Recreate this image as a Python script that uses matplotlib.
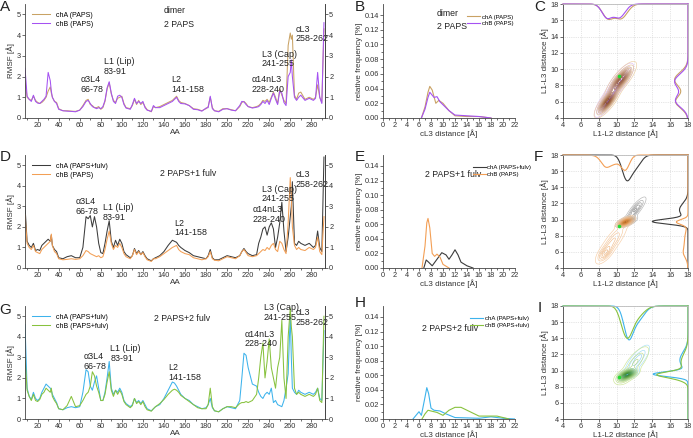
import matplotlib.pyplot as plt
import numpy as np
from matplotlib.colors import LinearSegmentedColormap

plt.rcParams['font.family'] = ['Liberation Sans', 'DejaVu Sans']

# residues of the RMSF profiles
res = [8, 10, 12, 14, 16, 18, 20, 22, 24, 26,
       28, 30, 32, 33, 34, 36, 38, 40, 44, 48,
       52, 56, 60, 63, 66, 68, 70, 72, 74, 76,
       78, 80, 82, 84, 86, 88, 90, 92, 94, 96,
       98, 100, 102, 104, 108, 110, 112, 114, 116, 118,
       120, 122, 124, 128, 130, 132, 136, 140, 144, 148,
       150, 152, 154, 156, 160, 164, 168, 172, 176, 180,
       182, 184, 186, 188, 192, 196, 200, 204, 208, 212,
       214, 216, 218, 220, 224, 228, 230, 232, 234, 236,
       238, 240, 242, 244, 246, 248, 250, 252, 254, 256,
       258, 260, 261, 262, 264, 266, 268, 270, 274, 278,
       282, 284, 286, 288, 290, 292]

# A: dimer, 2 PAPS
rmsf_A_chA = [1.8, 1.0, 0.9, 0.85, 1.05, 0.85, 0.75, 0.7, 0.75, 0.85,
              1.0, 1.3, 1.5, 1.2, 1.0, 0.8, 0.75, 0.45, 0.35, 0.35,
              0.33, 0.32, 0.38, 0.6, 0.85, 0.9, 0.65, 0.6, 0.5, 0.5,
              0.55, 0.42, 0.5, 0.8, 1.4, 1.7, 1.15, 0.85, 0.75, 0.95,
              1.0, 1.05, 0.7, 0.5, 0.45, 0.6, 0.9, 0.65, 0.85, 0.65,
              0.75, 0.55, 0.4, 0.3, 0.55, 0.5, 0.55, 0.65, 0.75, 0.85,
              0.95, 1.05, 0.85, 0.75, 0.7, 0.6, 0.45, 0.42, 0.35, 0.45,
              0.55, 1.0, 0.5, 0.35, 0.32, 0.45, 0.45, 0.4, 0.35, 0.55,
              0.75, 0.8, 0.7, 0.55, 0.5, 0.55, 0.6, 0.7, 0.85, 0.8,
              0.9, 0.75, 1.0, 1.25, 1.0, 0.7, 1.4, 1.1, 0.85, 0.7,
              3.5, 4.1, 3.8, 4.0, 1.1, 0.9, 1.2, 1.25, 0.9, 1.0,
              0.9, 1.0, 1.6, 1.0, 0.75, 4.3]
rmsf_A_chB = [2.4, 1.05, 0.9, 0.8, 1.1, 0.8, 0.72, 0.7, 0.8, 0.9,
              1.05, 2.2, 1.8, 1.3, 1.0, 0.8, 0.7, 0.42, 0.35, 0.33,
              0.32, 0.3, 0.38, 0.55, 0.8, 0.85, 0.7, 0.55, 0.5, 0.45,
              0.5, 0.45, 0.55, 0.85, 1.45, 1.75, 1.2, 0.8, 0.7, 1.05,
              1.1, 1.0, 0.65, 0.48, 0.42, 0.65, 0.95, 0.7, 0.8, 0.7,
              0.8, 0.5, 0.38, 0.32, 0.6, 0.5, 0.5, 0.6, 0.7, 0.8,
              0.9, 1.0, 0.8, 0.7, 0.68, 0.6, 0.42, 0.4, 0.33, 0.48,
              0.5, 1.05, 0.45, 0.35, 0.3, 0.42, 0.45, 0.38, 0.35, 0.6,
              0.8, 0.78, 0.65, 0.55, 0.48, 0.52, 0.55, 0.65, 0.8, 0.7,
              0.85, 0.65, 0.95, 1.2, 0.9, 0.65, 1.3, 1.2, 0.75, 0.6,
              2.0, 2.2, 2.8, 2.0, 1.0, 0.85, 1.0, 1.1, 0.85, 0.95,
              0.85, 0.95, 2.2, 1.0, 0.7, 4.6]

# D: 2 PAPS + 1 fulv
rmsf_D_chA = [3.0, 1.3, 1.1, 1.0, 1.2, 0.85, 0.9, 0.85, 1.1, 1.2,
              1.3, 1.4, 1.3, 1.6, 1.1, 0.9, 0.8, 0.5, 0.45, 0.55,
              0.6, 0.5, 0.5, 1.0, 2.5, 2.4, 2.55, 2.0, 2.5, 2.0,
              1.2, 0.75, 0.7, 1.2, 1.8, 2.3, 1.3, 1.0, 1.35, 1.1,
              1.4, 1.2, 0.8, 0.65, 0.5, 0.6, 0.95, 0.7, 0.85, 0.65,
              0.8, 0.6, 0.45, 0.35, 0.45, 0.5, 0.6, 0.8, 1.1, 1.35,
              1.3, 1.25, 1.1, 1.0, 0.85, 0.75, 0.6, 0.55, 0.5, 0.45,
              0.6, 0.9, 0.5, 0.4, 0.4, 0.5, 0.6, 0.55, 0.5, 0.6,
              0.8, 0.95, 0.8, 0.7, 0.6, 0.65, 1.2, 1.5, 1.9, 2.0,
              1.6, 2.0, 2.2, 1.9, 1.0, 1.5, 2.2, 3.2, 1.8, 0.8,
              1.5, 2.5, 3.0, 4.2, 1.2, 1.1, 1.3, 1.2, 1.1, 1.2,
              1.0, 1.1, 1.8, 1.0, 0.8, 5.4]
rmsf_D_chB = [2.6, 1.2, 1.0, 0.9, 1.1, 0.8, 0.75, 0.7, 0.9, 1.0,
              1.1, 1.2, 1.3, 1.65, 1.1, 0.8, 0.7, 0.45, 0.4, 0.42,
              0.45, 0.42, 0.45, 0.6, 0.85, 0.8, 0.7, 0.65, 0.6, 0.55,
              0.6, 0.5, 0.55, 0.9, 1.4, 1.8, 1.2, 0.9, 1.1, 1.0,
              1.2, 1.0, 0.7, 0.55, 0.45, 0.6, 0.9, 0.65, 0.8, 0.65,
              0.75, 0.55, 0.4, 0.32, 0.45, 0.45, 0.55, 0.7, 0.85, 1.0,
              1.05, 1.1, 0.9, 0.8, 0.7, 0.65, 0.5, 0.45, 0.4, 0.45,
              0.55, 0.8, 0.45, 0.38, 0.35, 0.45, 0.55, 0.5, 0.45, 0.6,
              0.8, 0.9, 0.75, 0.6, 0.55, 0.6, 0.7, 0.8, 0.9, 0.85,
              1.0, 0.9, 1.1, 1.2, 0.9, 0.8, 1.3, 1.2, 0.9, 0.7,
              2.2, 4.4, 3.5, 2.0, 1.1, 0.9, 1.0, 0.9, 0.85, 1.0,
              0.9, 1.0, 1.5, 0.8, 0.65, 2.5]

# G: 2 PAPS + 2 fulv
rmsf_G_chA = [4.6, 1.5, 1.1, 0.95, 1.3, 1.0, 0.9, 1.0, 1.3, 1.5,
              1.7, 1.6, 1.5, 1.4, 1.2, 1.0, 0.8, 0.5, 0.45, 0.55,
              0.6, 0.55, 0.6, 1.3, 2.4, 2.3, 1.6, 1.4, 1.8, 2.1,
              1.5, 0.9, 0.9, 1.3, 2.0, 2.8, 1.5, 1.2, 1.4, 1.3,
              1.5, 1.3, 0.9, 0.75, 0.6, 0.7, 1.0, 0.8, 0.9, 0.75,
              0.9, 0.7, 0.5, 0.4, 0.5, 0.6, 0.7, 1.0, 1.4, 1.8,
              1.75, 1.6, 1.4, 1.2, 1.0, 0.9, 0.7, 0.6, 0.5, 0.55,
              0.7, 1.0, 0.55, 0.4, 0.35, 0.5, 0.6, 0.55, 0.5, 0.9,
              2.0, 3.2, 3.1, 2.5, 1.7, 1.6, 1.3, 1.1, 1.0, 1.2,
              1.3, 1.2, 1.5, 0.8, 0.9, 0.7, 0.65, 0.6, 0.9, 1.5,
              2.2, 5.1, 3.0, 1.5, 1.3, 1.2, 1.4, 1.3, 1.2, 1.3,
              1.2, 1.3, 1.5, 1.0, 0.9, 4.3]
rmsf_G_chB = [3.0, 1.4, 1.1, 0.9, 1.2, 0.9, 0.85, 0.95, 1.2, 1.3,
              1.5, 1.4, 1.3, 1.5, 1.1, 0.9, 0.75, 0.5, 0.45, 0.65,
              1.1, 0.6, 0.65, 0.9, 1.2, 1.3, 1.6, 2.3, 2.1, 1.6,
              1.3, 0.9, 0.9, 1.2, 1.8, 2.3, 1.4, 1.1, 1.4, 1.2,
              1.4, 1.2, 0.85, 0.7, 0.55, 0.65, 1.0, 0.75, 0.85, 0.7,
              0.85, 0.6, 0.45, 0.38, 0.5, 0.6, 0.75, 0.95, 1.2, 1.4,
              1.45, 1.4, 1.3, 1.15, 1.0, 0.85, 0.7, 0.55, 0.5, 0.5,
              0.7, 1.5, 0.6, 0.4, 0.35, 0.5, 0.6, 0.6, 0.55, 0.75,
              0.8, 0.8, 0.85, 0.8, 0.9, 1.2, 2.0, 3.0, 3.7, 2.0,
              2.8, 3.9, 2.5, 2.0, 1.5, 2.5, 3.0, 4.8, 2.0, 1.0,
              4.0, 5.4, 4.5, 4.0, 1.5, 1.2, 1.3, 1.2, 1.1, 1.2,
              1.1, 1.2, 1.5, 0.9, 0.8, 5.0]

# cL3 distance distributions
dist_B_chA = [6.4, 7.0, 7.5, 7.8, 8.2, 8.8, 9.3, 10.0, 11.0, 12.0, 14.0, 16.0, 18.0]
freq_B_chA = [0.0, 0.015, 0.035, 0.043, 0.038, 0.02, 0.024, 0.02, 0.01, 0.003, 0.002, 0.002, 0.0]
dist_B_chB = [6.4, 7.0, 7.5, 7.8, 8.5, 9.0, 9.5, 10.0, 11.0, 12.0, 14.0, 16.0, 18.0]
freq_B_chB = [0.0, 0.012, 0.028, 0.035, 0.028, 0.029, 0.022, 0.018, 0.01, 0.004, 0.003, 0.002, 0.0]
dist_E_chA = [6.8, 7.2, 7.6, 8.2, 9.0, 9.8, 10.5, 11.0, 11.5, 12.0, 12.5, 13.0, 14.0, 15.0]
freq_E_chA = [0.0, 0.011, 0.008, 0.003, 0.012, 0.021, 0.018, 0.012, 0.018, 0.025, 0.018, 0.008, 0.003, 0.0]
dist_E_chB = [6.5, 7.0, 7.3, 7.5, 7.8, 8.2, 8.6, 9.0, 9.5, 10.0, 11.0]
freq_E_chB = [0.0, 0.03, 0.062, 0.068, 0.055, 0.02, 0.016, 0.019, 0.015, 0.005, 0.0]
dist_H_chA = [5.0, 5.8, 6.0, 6.4, 7.0, 7.3, 7.6, 8.0, 8.5, 9.5, 10.5, 12.0, 16.0, 18.0, 20.0, 22.0]
freq_H_chA = [0.0, 0.008, 0.01, 0.005, 0.03, 0.043, 0.035, 0.015, 0.012, 0.011, 0.007, 0.002, 0.001, 0.003, 0.001, 0.0]
dist_H_chB = [6.5, 7.0, 7.5, 8.0, 9.0, 10.0, 11.0, 12.0, 13.0, 14.0, 16.0, 18.0, 19.0, 20.0, 21.0]
freq_H_chB = [0.0, 0.007, 0.012, 0.011, 0.009, 0.005, 0.012, 0.016, 0.016, 0.012, 0.004, 0.004, 0.004, 0.002, 0.0]

# L1-L2 / L1-L3 populations: (x, y, sx, sy, rho, weight)
pop_C_chA = [(9.0, 6.0, 0.6, 0.8, 0.8, 0.45), (10.5, 8.7, 0.7, 0.9, 0.8, 0.55)]
pop_C_chB = [(8.9, 6.1, 0.55, 0.8, 0.8, 0.45), (10.3, 8.5, 0.65, 0.9, 0.8, 0.55)]
pop_F_chA = [(11.1, 9.75, 0.5, 0.3, 0.6, 0.6), (12.1, 11.2, 0.6, 0.8, 0.85, 0.4)]
pop_F_chB = [(11.0, 9.7, 0.45, 0.3, 0.6, 0.35), (9.5, 7.2, 0.9, 1.3, 0.85, 0.5), (8.7, 5.8, 0.45, 0.55, 0.6, 0.15)]
pop_I_chA = [(11.3, 9.55, 0.5, 0.3, 0.5, 0.55), (12.3, 11.3, 0.75, 1.0, 0.8, 0.45)]
pop_I_chB = [(11.2, 9.5, 0.55, 0.35, 0.5, 0.5), (12.1, 11.0, 0.85, 1.1, 0.75, 0.4), (10.6, 8.9, 0.45, 0.35, 0.3, 0.1)]
crystal = (10.3, 9.2)

loops = ['\u03b13L4\n66-78', 'L1 (Lip)\n83-91', 'L2\n141-158', '\u03b114nL3\n228-240', 'L3 (Cap)\n241-255', 'cL3\n258-262']
loop_x = [[61, 83, 147, 223, 233, 265],
          [56, 82, 150, 224, 233, 265],
          [64, 89, 144, 217, 235, 265]]
loop_y = [[1.6, 2.5, 1.6, 1.6, 2.85, 4.05],
          [3.0, 2.7, 1.95, 2.6, 3.6, 4.3],
          [2.8, 3.2, 2.25, 3.9, 5.2, 4.95]]

W, H = 693, 438
fig = plt.figure(figsize=(W / 100, H / 100), dpi=100)

def box(l, t, r, b):
    return fig.add_axes([l / W, 1 - b / H, (r - l) / W, (b - t) / H])

rows = [(4, 118), (155, 268), (306, 419)]
tick_kw = dict(labelsize=5.3, length=2, width=0.5, colors='#333333', pad=1)
spine_c = '#444444'
lab_kw = dict(fontsize=5.8, color='#333333')

def style(ax, spines):
    for s in ['left', 'right', 'top', 'bottom']:
        ax.spines[s].set_visible(s in spines)
        ax.spines[s].set_linewidth(0.6)
        ax.spines[s].set_color(spine_c)
    ax.tick_params(which='both', **tick_kw)
    ax.tick_params(which='minor', length=1.2)

def rmsf_panel(ax, a, b, ca, cb, la, lb, row, title):
    ax.plot(res, a, color=ca, lw=0.75, label=la)
    ax.plot(res, b, color=cb, lw=0.75, label=lb)
    ax.set_xlim(8, 293)
    ax.set_ylim(0, 5.5)
    ax.set_xticks(range(20, 281, 20))
    ax.set_xticks(range(10, 291, 10), minor=True)
    ax.set_yticks(range(0, 6))
    style(ax, ['left', 'bottom', 'right'])
    ax.set_xlabel('AA', labelpad=0, **lab_kw)
    ax.set_ylabel('RMSF [\u00c5]', labelpad=1, **lab_kw)
    tw = ax.twinx()
    tw.set_ylim(0, 5.5)
    tw.set_yticks(range(0, 6))
    style(tw, ['right'])
    for txt, x, y in zip(loops, loop_x[row], loop_y[row]):
        ax.text(x, y, txt, fontsize=6.4, color='#222222', ha='left', va='center',
                linespacing=1.1, clip_on=False)
    ax.text(title[0], title[1], title[2], fontsize=6.3, color='#222222', ha='left',
            va='center', linespacing=1.6)
    ax.legend(loc='upper left', bbox_to_anchor=(0.01, 0.97), frameon=False, fontsize=5,
              handlelength=2.6, labelspacing=0.3, borderaxespad=0.2)

def dist_panel(ax, xa, ya, xb, yb, ca, cb, la, lb, title, leg_x):
    ax.plot(xa, ya, color=ca, lw=0.8, label=la)
    ax.plot(xb, yb, color=cb, lw=0.8, label=lb)
    ax.set_xlim(0, 22)
    ax.set_ylim(0, 0.155)
    ax.set_xticks(range(0, 23, 2))
    ax.set_xticks(range(0, 23, 1), minor=True)
    ax.set_yticks(np.arange(0, 0.141, 0.02))
    ax.set_yticks(np.arange(0, 0.15, 0.01), minor=True)
    ax.yaxis.set_major_formatter(plt.FormatStrFormatter('%.2f'))
    style(ax, ['left', 'bottom'])
    ax.set_xlabel('cL3 distance [\u00c5]', labelpad=0, **lab_kw)
    ax.set_ylabel('relative frequency [%]', labelpad=1, **lab_kw)
    ax.text(title[0], title[1], title[2], fontsize=6.3, color='#222222', ha='left',
            va='center', linespacing=1.6)
    ax.legend(loc='upper left', bbox_to_anchor=(leg_x, 0.93), frameon=False, fontsize=4.3,
              handlelength=2.2, handletextpad=0.3, labelspacing=0.2, borderaxespad=0)

gx = np.linspace(4, 18, 281)
GX, GY = np.meshgrid(gx, gx)

def density(pop):
    z = np.zeros_like(GX)
    for mx, my, sx, sy, r, w in pop:
        dx = (GX - mx) / sx
        dy = (GY - my) / sy
        q = (dx ** 2 - 2 * r * dx * dy + dy ** 2) / (1 - r ** 2)
        z += w * np.exp(-0.5 * q) / (2 * np.pi * sx * sy * np.sqrt(1 - r ** 2))
    return z

def marginal(pop, axis):
    m = np.zeros_like(gx)
    for mx, my, sx, sy, r, w in pop:
        mu, s = (mx, sx) if axis == 0 else (my, sy)
        m += w * np.exp(-0.5 * ((gx - mu) / s) ** 2) / s
    return m / m.max()

def map_panel(ax, pa, pb, ca, cb, cmaps, depth_top, depth_right, nlev, order=(0, 1)):
    pops = [pa, pb]
    for i in order:
        z = density(pops[i])
        lev = np.linspace(0.04, 0.95, nlev) * z.max()
        ax.contour(GX, GY, z, levels=lev, cmap=cmaps[i], linewidths=0.45)
    for pop, c, dt, dr in zip(pops, [ca, cb], depth_top, depth_right):
        ax.plot(gx, 18 - dt * marginal(pop, 0), color=c, lw=0.8, clip_on=False)
        ax.plot(18 - dr * marginal(pop, 1), gx, color=c, lw=0.8, clip_on=False)
    ax.plot(*crystal, 'o', color='#22dd33', ms=2.6, mec='none')
    ax.set_xlim(4, 18)
    ax.set_ylim(4, 18)
    ax.set_xticks(range(4, 19, 2))
    ax.set_yticks(range(4, 19, 2))
    ax.grid(True, color='#cccccc', lw=0.5, ls=':')
    ax.set_axisbelow(True)
    style(ax, ['left', 'bottom', 'right', 'top'])
    ax.spines['top'].set_color('#bbbbbb')
    ax.spines['right'].set_color('#bbbbbb')
    ax.set_xlabel('L1-L2 distance [\u00c5]', labelpad=0, **lab_kw)
    ax.set_ylabel('L1-L3 distance [\u00c5]', labelpad=1, **lab_kw)

def cmap(c1, c2):
    return LinearSegmentedColormap.from_list('m', [c1, c2])

gold, purple = '#c9a264', '#a552f2'
grey, orange = '#3c3c3c', '#f39f55'
blue, green = '#3db3ec', '#88c23e'

# row 1
ax = box(25, rows[0][0], 325, rows[0][1])
rmsf_panel(ax, rmsf_A_chA, rmsf_A_chB, gold, purple, 'chA (PAPS)', 'chB (PAPS)', 0,
           (140, 4.85, 'dimer\n2 PAPS'))
ax = box(383, rows[0][0], 515, rows[0][1])
dist_panel(ax, dist_B_chA, freq_B_chA, dist_B_chB, freq_B_chB, gold, purple,
           'chA (PAPS)', 'chB (PAPS)', (9, 0.133, 'dimer\n2 PAPS'), 0.62)
ax = box(563, rows[0][0], 688, rows[0][1])
map_panel(ax, pop_C_chA, pop_C_chB, gold, purple,
          [cmap('#ecd0a4', '#8a4a1e'), cmap('#dcbcf4', '#7a3c8c')], [1.9, 1.8], [1.5, 1.5], 12,
          order=(1, 0))

# row 2
ax = box(25, rows[1][0], 325, rows[1][1])
rmsf_panel(ax, rmsf_D_chA, rmsf_D_chB, grey, orange, 'chA (PAPS+fulv)', 'chB (PAPS)', 1,
           (136, 4.6, '2 PAPS+1 fulv'))
ax = box(383, rows[1][0], 515, rows[1][1])
dist_panel(ax, dist_E_chA, freq_E_chA, dist_E_chB, freq_E_chB, grey, orange,
           'chA (PAPS+fulv)', 'chB (PAPS)', (7, 0.128, '2 PAPS+1 fulv'), 0.66)
ax = box(563, rows[1][0], 688, rows[1][1])
map_panel(ax, pop_F_chA, pop_F_chB, grey, orange,
          [cmap('#b5b5b5', '#000000'), cmap('#f7cfa8', '#d88030')], [3.2, 1.9], [4.0, 1.3], 16)

# row 3
ax = box(25, rows[2][0], 325, rows[2][1])
rmsf_panel(ax, rmsf_G_chA, rmsf_G_chB, blue, green, 'chA (PAPS+fulv)', 'chB (PAPS+fulv)', 2,
           (131, 4.9, '2 PAPS+2 fulv'))
ax = box(383, rows[2][0], 515, rows[2][1])
dist_panel(ax, dist_H_chA, freq_H_chA, dist_H_chB, freq_H_chB, blue, green,
           'chA (PAPS+fulv)', 'chB (PAPS+fulv)', (6.5, 0.124, '2 PAPS+2 fulv'), 0.64)
ax = box(563, rows[2][0], 688, rows[2][1])
map_panel(ax, pop_I_chA, pop_I_chB, blue, green,
          [cmap('#a8e0f7', '#1586c0'), cmap('#cde597', '#3b8a25')], [4.2, 4.0], [3.9, 3.5], 14)

for lab, x, y in [('A', 5, 7), ('B', 360, 7), ('C', 540, 7),
                  ('D', 5, 157), ('E', 360, 157), ('F', 538, 157),
                  ('G', 5, 310), ('H', 360, 303), ('I', 540, 308)]:
    fig.text(x / W, 1 - y / H, lab, fontsize=11, ha='center', va='center', color='#222222')

fig.savefig('out.png', dpi=100)
